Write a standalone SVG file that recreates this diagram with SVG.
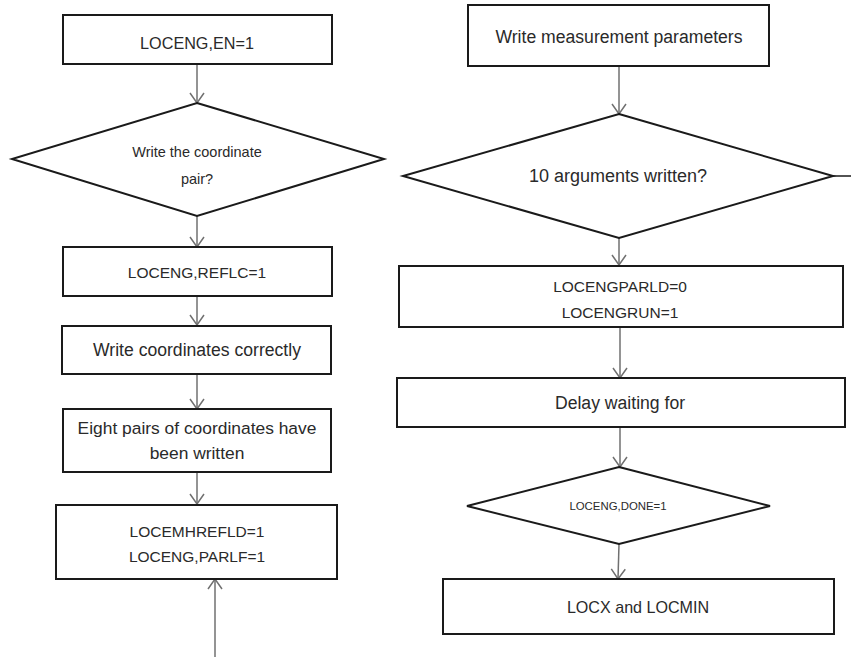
<svg xmlns="http://www.w3.org/2000/svg" width="851" height="657" viewBox="0 0 851 657">
<style>
.box{fill:#fff;stroke:#1a1a1a;stroke-width:2}
.t{font-family:"Liberation Sans",Arial,sans-serif;font-size:15.5px;fill:#2a2a2a;text-anchor:middle;dominant-baseline:central}
.l{font-size:17.6px}
.c{fill:none;stroke:#707070;stroke-width:1.5}
</style>
<defs>
<marker id="a" markerUnits="userSpaceOnUse" markerWidth="16" markerHeight="12" viewBox="-8 -11 16 12" refX="0" refY="0" orient="auto-start-reverse" overflow="visible">
<path d="M-10,-7 L0,0 L-10,7" fill="none" stroke="#707070" stroke-width="1.5"/>
</marker>
</defs>
<rect width="851" height="657" fill="#fff"/>
<g id="connectors">
<line class="c" x1="197" y1="64" x2="197" y2="103" marker-end="url(#a)"/>
<line class="c" x1="197" y1="216" x2="197" y2="247" marker-end="url(#a)"/>
<line class="c" x1="197" y1="296" x2="197" y2="325" marker-end="url(#a)"/>
<line class="c" x1="197" y1="374" x2="197" y2="409" marker-end="url(#a)"/>
<line class="c" x1="197" y1="472" x2="197" y2="504" marker-end="url(#a)"/>
<line class="c" x1="215" y1="657" x2="215" y2="579" marker-end="url(#a)"/>
<line class="c" x1="619" y1="66" x2="619" y2="114" marker-end="url(#a)"/>
<line class="c" x1="619" y1="238" x2="619" y2="265" marker-end="url(#a)"/>
<line class="c" x1="620" y1="327" x2="620" y2="378" marker-end="url(#a)"/>
<line class="c" x1="620" y1="427" x2="620" y2="467" marker-end="url(#a)"/>
<line class="c" x1="619" y1="544" x2="618" y2="579" marker-end="url(#a)"/>
<line x1="833" y1="176" x2="851" y2="176" stroke="#1a1a1a" stroke-width="1.5"/>
</g>
<g id="n1"><rect class="box" x="63" y="15" width="269" height="49"/><text class="t" x="197" y="43" style="font-size:16.2px">LOCENG,EN=1</text></g>
<g id="n2"><polygon class="box" points="197,103 384,159 197,216 12,159"/><text class="t" x="197" y="152" style="font-size:14.5px">Write the coordinate</text><text class="t" x="197" y="179" style="font-size:14.5px">pair?</text></g>
<g id="n3"><rect class="box" x="63" y="247" width="269" height="49"/><text class="t" x="197" y="272">LOCENG,REFLC=1</text></g>
<g id="n4"><rect class="box" x="62" y="326" width="269" height="48"/><text class="t l" x="197" y="350">Write coordinates correctly</text></g>
<g id="n5"><rect class="box" x="63" y="409" width="268" height="63"/><text class="t" x="197" y="428" style="font-size:17.4px">Eight pairs of coordinates have</text><text class="t" x="197" y="453" style="font-size:17.4px">been written</text></g>
<g id="n6"><rect class="box" x="56" y="505" width="281" height="74"/><text class="t" x="197" y="531">LOCEMHREFLD=1</text><text class="t" x="197" y="556">LOCENG,PARLF=1</text></g>
<g id="n7"><rect class="box" x="468" y="5" width="301" height="61"/><text class="t l" x="619" y="37">Write measurement parameters</text></g>
<g id="n8"><polygon class="box" points="619,114 833,176 619,238 403,176"/><text class="t" x="618" y="176" style="font-size:18px">10 arguments written?</text></g>
<g id="n9"><rect class="box" x="399" y="266" width="444" height="61"/><text class="t" x="620" y="286">LOCENGPARLD=0</text><text class="t" x="620" y="312">LOCENGRUN=1</text></g>
<g id="n10"><rect class="box" x="397" y="378" width="448" height="49"/><text class="t l" x="620" y="403">Delay waiting for</text></g>
<g id="n11"><polygon class="box" points="619,467 770,506 619,544 467,506"/><text class="t" x="618" y="506" style="font-size:11.4px">LOCENG,DONE=1</text></g>
<g id="n12"><rect class="box" x="443" y="579" width="391" height="55"/><text class="t" x="638" y="607" style="font-size:16.1px">LOCX and LOCMIN</text></g>
</svg>
